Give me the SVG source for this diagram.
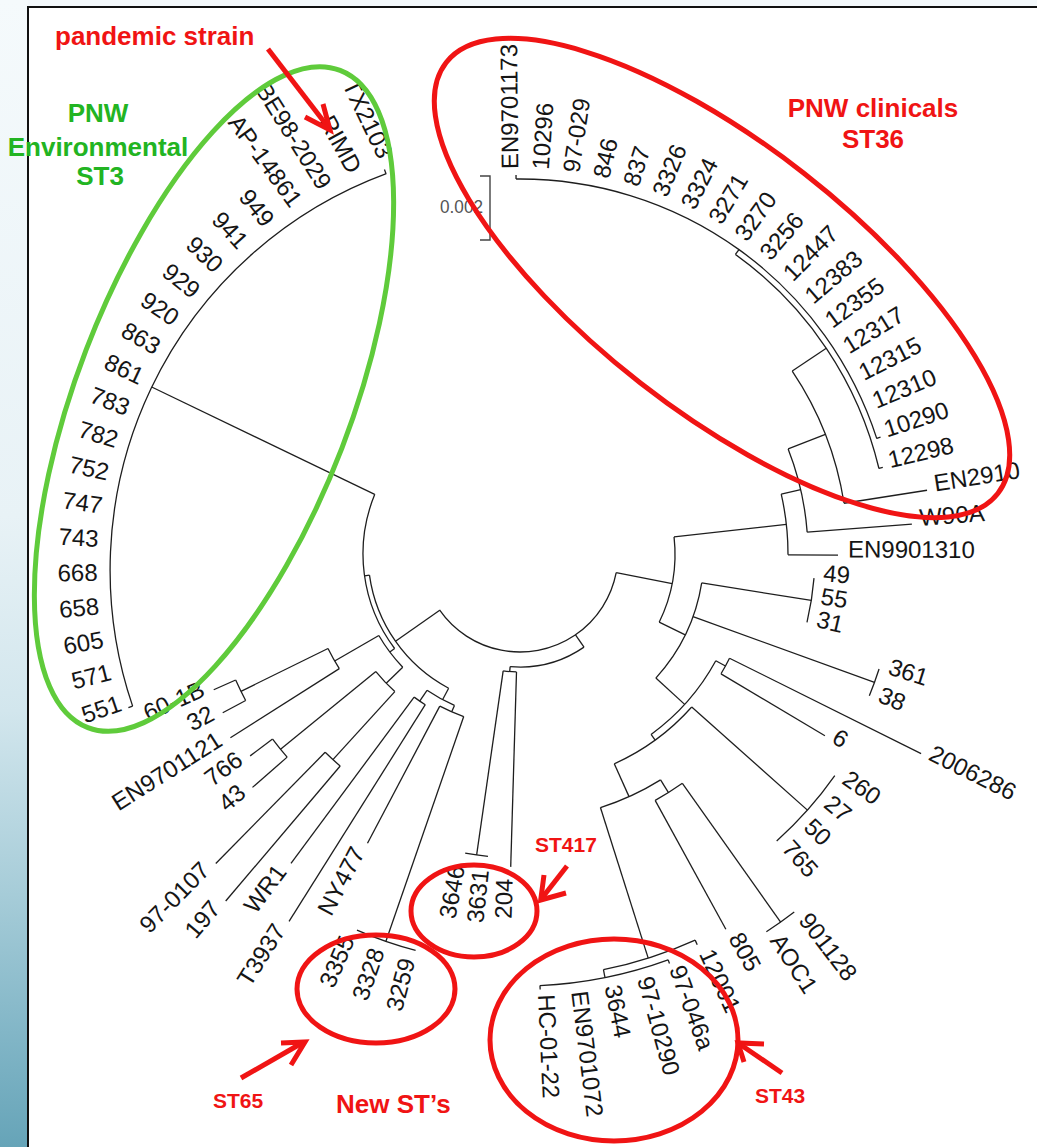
<svg xmlns="http://www.w3.org/2000/svg" width="1037" height="1147" viewBox="0 0 1037 1147">
<defs>
<linearGradient id="side" x1="0" y1="0" x2="0" y2="1">
<stop offset="0" stop-color="#f5fafc"/>
<stop offset="0.45" stop-color="#e8f2f6"/>
<stop offset="0.62" stop-color="#d2e6ed"/>
<stop offset="0.78" stop-color="#a6ccd8"/>
<stop offset="0.9" stop-color="#82b6c7"/>
<stop offset="1" stop-color="#66a4b8"/>
</linearGradient>
<style>
.t circle, .t line {fill:none; stroke:#1e1e1e; stroke-width:1.3}
.lab text {font-family:"Liberation Sans",Arial,sans-serif; font-size:24px; fill:#151515}
.lab .l {text-anchor:end}
.red {fill:none; stroke:#f01414; stroke-width:5}
.grn {fill:none; stroke:#5fcb3b; stroke-width:5}
.arr {fill:none; stroke:#f01414; stroke-width:5; stroke-linejoin:miter}
.rt {font-family:"Liberation Sans",Arial,sans-serif; font-weight:bold; fill:#f01414}
.gt {font-family:"Liberation Sans",Arial,sans-serif; font-weight:bold; fill:#22b422; font-size:26px; text-anchor:middle}
</style>
</defs>
<rect x="0" y="0" width="1037" height="1147" fill="#ffffff"/>
<rect x="0" y="0" width="28" height="1147" fill="url(#side)"/>
<rect x="28" y="0" width="1009" height="7" fill="#f3f8fb"/>
<path d="M28,1147 V7 H1037" fill="none" stroke="#111" stroke-width="2"/>

<g id="connectors" class="t" transform="translate(520 554)">
<circle r="98" stroke-dasharray="229.2 4000" transform="rotate(11)"/>
<line x1="98" x2="155" transform="rotate(11)"/>
<line x1="98" x2="113" transform="rotate(55.5)"/>
<circle r="113" stroke-dasharray="77.9 4000" transform="rotate(55.5)"/>
<line x1="113" x2="118" transform="rotate(95)"/>
<circle r="118" stroke-dasharray="13.39 4000" transform="rotate(91.7)"/>
<line x1="118" x2="304" transform="rotate(98.2)"/>
<circle r="304" stroke-dasharray="23.08 4000" transform="rotate(96.05)"/>
<line x1="118" x2="313" transform="rotate(91.7)"/>
<line x1="98" x2="152" transform="rotate(145)"/>
<circle r="152" stroke-dasharray="143.3 4000" transform="rotate(118)"/>
<line x1="152" x2="157" transform="rotate(172)"/>
<circle r="157" stroke-dasharray="162.5 4000" transform="rotate(143)"/>
<line x1="-145.3" y1="-59.6" x2="-368.3" y2="-167"/>
<line x1="157" x2="163" transform="rotate(143)"/>
<circle r="163" stroke-dasharray="39.83 4000" transform="rotate(136)"/>
<line x1="163" x2="214" transform="rotate(150)"/>
<circle r="214" stroke-dasharray="23.16 4000" transform="rotate(147.6)"/>
<line x1="214" x2="343" transform="rotate(147.6)"/>
<line x1="214" x2="311" transform="rotate(153.8)"/>
<circle r="311" stroke-dasharray="22.8 4000" transform="rotate(151.9)"/>
<line x1="311" x2="337" transform="rotate(151.9)"/>
<line x1="311" x2="335" transform="rotate(156.1)"/>
<line x1="163" x2="186" transform="rotate(136)"/>
<circle r="186" stroke-dasharray="27.59 4000" transform="rotate(132.3)"/>
<line x1="186" x2="309" transform="rotate(140.8)"/>
<circle r="309" stroke-dasharray="23.19 4000" transform="rotate(138.9)"/>
<line x1="309" x2="337" transform="rotate(143.2)"/>
<line x1="309" x2="355" transform="rotate(138.9)"/>
<line x1="186" x2="278" transform="rotate(132.3)"/>
<circle r="278" stroke-dasharray="20.38 4000" transform="rotate(130.3)"/>
<line x1="278" x2="434" transform="rotate(134.5)"/>
<line x1="278" x2="455" transform="rotate(130.3)"/>
<line x1="152" x2="165" transform="rotate(118)"/>
<circle r="165" stroke-dasharray="31.39 4000" transform="rotate(113.4)"/>
<line x1="165" x2="178" transform="rotate(124.3)"/>
<circle r="178" stroke-dasharray="13.51 4000" transform="rotate(122.15)"/>
<line x1="178" x2="385" transform="rotate(126.5)"/>
<line x1="178" x2="434" transform="rotate(122.15)"/>
<line x1="165" x2="172" transform="rotate(113.4)"/>
<circle r="172" stroke-dasharray="26.12 4000" transform="rotate(109.1)"/>
<line x1="172" x2="327" transform="rotate(117.8)"/>
<line x1="172" x2="410" transform="rotate(109.1)"/>
<circle r="410" stroke-dasharray="62.25 4000" transform="rotate(104.75)"/>
<circle r="155" stroke-dasharray="87.78 4000" transform="rotate(-6.35)"/>
<line x1="155" x2="268" transform="rotate(-6.35)"/>
<circle r="268" stroke-dasharray="61.27 4000" transform="rotate(-12.9)"/>
<line x1="268" x2="318" transform="rotate(0.2)"/>
<line x1="268" x2="288" transform="rotate(-12.9)"/>
<circle r="288" stroke-dasharray="85.7 4000" transform="rotate(-21.4)"/>
<line x1="288" x2="393" transform="rotate(-4.35)"/>
<line x1="288" x2="328" transform="rotate(-21.4)"/>
<circle r="328" stroke-dasharray="143.1 4000" transform="rotate(-33.9)"/>
<line x1="328" x2="412" transform="rotate(-8.9)"/>
<line x1="328" x2="369" transform="rotate(-33.9)"/>
<circle r="369" stroke-dasharray="263.2 4000" transform="rotate(-54.28)"/>
<line x1="369" x2="373" transform="rotate(-13.42)"/>
<line x1="369" x2="375" transform="rotate(-54.28)"/>
<circle r="375" stroke-dasharray="475.4 4000" transform="rotate(-90.6)"/>
<line x1="375" x2="379" transform="rotate(-90.6)"/>
<line x1="375" x2="379" transform="rotate(-17.96)"/>
<line x1="155" x2="184" transform="rotate(26.1)"/>
<circle r="184" stroke-dasharray="107.1 4000" transform="rotate(9.05)"/>
<line x1="184" x2="295" transform="rotate(9.05)"/>
<circle r="295" stroke-dasharray="44.79 4000" transform="rotate(4.7)"/>
<line x1="184" x2="377" transform="rotate(19.9)"/>
<circle r="377" stroke-dasharray="28.62 4000" transform="rotate(17.75)"/>
<line x1="184" x2="223" transform="rotate(42.4)"/>
<circle r="223" stroke-dasharray="98.86 4000" transform="rotate(28.6)"/>
<line x1="223" x2="234" transform="rotate(28.6)"/>
<circle r="234" stroke-dasharray="17.77 4000" transform="rotate(26.45)"/>
<line x1="234" x2="448" transform="rotate(26.45)"/>
<line x1="234" x2="355" transform="rotate(30.8)"/>
<line x1="223" x2="230" transform="rotate(54)"/>
<circle r="230" stroke-dasharray="96.74 4000" transform="rotate(41.7)"/>
<line x1="230" x2="385" transform="rotate(41.7)"/>
<circle r="385" stroke-dasharray="87.69 4000" transform="rotate(35.15)"/>
<line x1="230" x2="266" transform="rotate(65.8)"/>
<circle r="266" stroke-dasharray="66.39 4000" transform="rotate(58.1)"/>
<line x1="266" x2="281" transform="rotate(58.1)"/>
<circle r="281" stroke-dasharray="32.12 4000" transform="rotate(54.7)"/>
<line x1="281" x2="428" transform="rotate(61.25)"/>
<line x1="281" x2="451" transform="rotate(54.7)"/>
<circle r="451" stroke-dasharray="34.24 4000" transform="rotate(52.55)"/>
<line x1="266" x2="424" transform="rotate(72.4)"/>
<circle r="424" stroke-dasharray="96.57 4000" transform="rotate(65.6)"/>
<line x1="424" x2="429" transform="rotate(65.6)"/>
<line x1="424" x2="432" transform="rotate(78.65)"/>
<circle r="432" stroke-dasharray="131.2 4000" transform="rotate(69.95)"/>
<line x1="432" x2="436" transform="rotate(87.35)"/>
<line x1="432" x2="436" transform="rotate(69.95)"/>
<g transform="translate(12.6 16)">
<circle r="422.5" stroke-dasharray="652.6 4000" transform="rotate(161.2)"/>
<line x1="422.5" x2="427" transform="rotate(161.2)"/>
<line x1="422.5" x2="427" transform="rotate(249.7)"/>
</g>
</g>

<g class="lab" transform="translate(520 554)">
<g id="leaf-EN9701173"><text transform="rotate(-90.6) translate(385 0)" y="2.4">EN9701173</text></g>
<g id="leaf-10296"><text transform="rotate(-86.06) translate(385 0)" y="2.4">10296</text></g>
<g id="leaf-97-029"><text transform="rotate(-81.52) translate(385 0)" y="2.4">97-029</text></g>
<g id="leaf-846"><text transform="rotate(-76.98) translate(385 0)" y="2.4">846</text></g>
<g id="leaf-837"><text transform="rotate(-72.44) translate(385 0)" y="2.4">837</text></g>
<g id="leaf-3326"><text transform="rotate(-67.9) translate(385 0)" y="2.4">3326</text></g>
<g id="leaf-3324"><text transform="rotate(-63.36) translate(385 0)" y="2.4">3324</text></g>
<g id="leaf-3271"><text transform="rotate(-58.82) translate(385 0)" y="2.4">3271</text></g>
<g id="leaf-3270"><text transform="rotate(-54.28) translate(385 0)" y="2.4">3270</text></g>
<g id="leaf-3256"><text transform="rotate(-49.74) translate(385 0)" y="2.4">3256</text></g>
<g id="leaf-12447"><text transform="rotate(-45.2) translate(385 0)" y="2.4">12447</text></g>
<g id="leaf-12383"><text transform="rotate(-40.66) translate(385 0)" y="2.4">12383</text></g>
<g id="leaf-12355"><text transform="rotate(-36.12) translate(385 0)" y="2.4">12355</text></g>
<g id="leaf-12317"><text transform="rotate(-31.58) translate(385 0)" y="2.4">12317</text></g>
<g id="leaf-12315"><text transform="rotate(-27.04) translate(385 0)" y="2.4">12315</text></g>
<g id="leaf-12310"><text transform="rotate(-22.5) translate(385 0)" y="2.4">12310</text></g>
<g id="leaf-10290"><text transform="rotate(-17.96) translate(385 0)" y="2.4">10290</text></g>
<g id="leaf-12298"><text transform="rotate(-13.42) translate(380 0)" y="2.4">12298</text></g>
<g id="leaf-EN2910"><text transform="rotate(-8.9) translate(420 0)" y="2.4">EN2910</text></g>
<g id="leaf-W90A"><text transform="rotate(-4.35) translate(401 0)" y="2.4">W90A</text></g>
<g id="leaf-EN9901310"><text transform="rotate(0.2) translate(328 0)" y="2.4">EN9901310</text></g>
<g id="leaf-49"><text transform="rotate(4.7) translate(304 0)" y="2.4">49</text></g>
<g id="leaf-55"><text transform="rotate(9.05) translate(304 0)" y="2.4">55</text></g>
<g id="leaf-31"><text transform="rotate(13.4) translate(304 0)" y="2.4">31</text></g>
<g id="leaf-361"><text transform="rotate(17.75) translate(386 0)" y="2.4">361</text></g>
<g id="leaf-38"><text transform="rotate(22.1) translate(386 0)" y="2.4">38</text></g>
<g id="leaf-2006286"><text transform="rotate(26.45) translate(456 0)" y="2.4">2006286</text></g>
<g id="leaf-6"><text transform="rotate(30.8) translate(363 0)" y="2.4">6</text></g>
<g id="leaf-260"><text transform="rotate(35.15) translate(394 0)" y="2.4">260</text></g>
<g id="leaf-27"><text transform="rotate(39.5) translate(394 0)" y="2.4">27</text></g>
<g id="leaf-50"><text transform="rotate(43.85) translate(394 0)" y="2.4">50</text></g>
<g id="leaf-765"><text transform="rotate(48.2) translate(394 0)" y="2.4">765</text></g>
<g id="leaf-901128"><text transform="rotate(52.55) translate(460 0)" y="2.4">901128</text></g>
<g id="leaf-AOC1"><text transform="rotate(56.9) translate(460 0)" y="2.4">AOC1</text></g>
<g id="leaf-805"><text transform="rotate(61.25) translate(437 0)" y="2.4">805</text></g>
<g id="leaf-12001"><text transform="rotate(65.6) translate(438 0)" y="2.4">12001</text></g>
<g id="leaf-97-046a"><text transform="rotate(69.95) translate(441 0)" y="2.4">97-046a</text></g>
<g id="leaf-97-10290"><text transform="rotate(74.3) translate(441 0)" y="2.4">97-10290</text></g>
<g id="leaf-3644"><text transform="rotate(78.65) translate(441 0)" y="2.4">3644</text></g>
<g id="leaf-EN9701072"><text transform="rotate(83) translate(441 0)" y="2.4">EN9701072</text></g>
<g id="leaf-HC-01-22"><text transform="rotate(87.35) translate(441 0)" y="2.4">HC-01-22</text></g>
<g id="leaf-204"><text class="l" transform="rotate(91.7) translate(325 0) rotate(180)" y="2.4">204</text></g>
<g id="leaf-3631"><text class="l" transform="rotate(96.05) translate(318 0) rotate(180)" y="2.4">3631</text></g>
<g id="leaf-3646"><text class="l" transform="rotate(100.4) translate(318 0) rotate(180)" y="2.4">3646</text></g>
<g id="leaf-3259"><text class="l" transform="rotate(104.75) translate(420 0) rotate(180)" y="2.4">3259</text></g>
<g id="leaf-3328"><text class="l" transform="rotate(109.1) translate(420 0) rotate(180)" y="2.4">3328</text></g>
<g id="leaf-3355"><text class="l" transform="rotate(113.45) translate(420 0) rotate(180)" y="2.4">3355</text></g>
<g id="leaf-NY477"><text class="l" transform="rotate(117.8) translate(336 0) rotate(180)" y="2.4">NY477</text></g>
<g id="leaf-T3937"><text class="l" transform="rotate(122.15) translate(443 0) rotate(180)" y="2.4">T3937</text></g>
<g id="leaf-WR1"><text class="l" transform="rotate(126.5) translate(394 0) rotate(180)" y="2.4">WR1</text></g>
<g id="leaf-197"><text class="l" transform="rotate(130.3) translate(464 0) rotate(180)" y="2.4">197</text></g>
<g id="leaf-97-0107"><text class="l" transform="rotate(134.5) translate(443 0) rotate(180)" y="2.4">97-0107</text></g>
<g id="leaf-43"><text class="l" transform="rotate(138.9) translate(364 0) rotate(180)" y="2.4">43</text></g>
<g id="leaf-766"><text class="l" transform="rotate(143.2) translate(346 0) rotate(180)" y="2.4">766</text></g>
<g id="leaf-EN9701121"><text class="l" transform="rotate(147.6) translate(352 0) rotate(180)" y="2.4">EN9701121</text></g>
<g id="leaf-32"><text class="l" transform="rotate(151.9) translate(346 0) rotate(180)" y="2.4">32</text></g>
<g id="leaf-60-1B"><text class="l" transform="rotate(156.1) translate(344 0) rotate(180)" y="2.4">60-1B</text></g>
<g transform="translate(12.6 16)">
<g id="leaf-551"><text class="l" transform="rotate(161.2) translate(433 0) rotate(180)" y="1">551</text></g>
<g id="leaf-571"><text class="l" transform="rotate(165.63) translate(434 0) rotate(180)" y="2">571</text></g>
<g id="leaf-605"><text class="l" transform="rotate(170.05) translate(435 0) rotate(180)" y="2.4">605</text></g>
<g id="leaf-658"><text class="l" transform="rotate(174.48) translate(435 0) rotate(180)" y="2.4">658</text></g>
<g id="leaf-668"><text class="l" transform="rotate(178.9) translate(435 0) rotate(180)" y="2.4">668</text></g>
<g id="leaf-743"><text class="l" transform="rotate(183.33) translate(435 0) rotate(180)" y="2.4">743</text></g>
<g id="leaf-747"><text class="l" transform="rotate(187.75) translate(435 0) rotate(180)" y="2.4">747</text></g>
<g id="leaf-752"><text class="l" transform="rotate(192.18) translate(435 0) rotate(180)" y="2.4">752</text></g>
<g id="leaf-782"><text class="l" transform="rotate(196.6) translate(435 0) rotate(180)" y="2.4">782</text></g>
<g id="leaf-783"><text class="l" transform="rotate(201.03) translate(435 0) rotate(180)" y="2.4">783</text></g>
<g id="leaf-861"><text class="l" transform="rotate(205.45) translate(435 0) rotate(180)" y="2.4">861</text></g>
<g id="leaf-863"><text class="l" transform="rotate(209.88) translate(435 0) rotate(180)" y="2.4">863</text></g>
<g id="leaf-920"><text class="l" transform="rotate(214.3) translate(435 0) rotate(180)" y="2.4">920</text></g>
<g id="leaf-929"><text class="l" transform="rotate(218.73) translate(435 0) rotate(180)" y="2.4">929</text></g>
<g id="leaf-930"><text class="l" transform="rotate(223.15) translate(435 0) rotate(180)" y="2.4">930</text></g>
<g id="leaf-941"><text class="l" transform="rotate(227.58) translate(435 0) rotate(180)" y="2.4">941</text></g>
<g id="leaf-949"><text class="l" transform="rotate(232) translate(435 0) rotate(179)" y="2.4">949</text></g>
<g id="leaf-AP-14861"><text class="l" transform="rotate(236.43) translate(435 0) rotate(177.5)" y="2.4">AP-14861</text></g>
<g id="leaf-BE98-2029"><text class="l" transform="rotate(240.85) translate(435 0) rotate(177)" y="2.4">BE98-2029</text></g>
<g id="leaf-RIMD"><text class="l" transform="rotate(245.28) translate(436 0) rotate(176)" y="2.4">RIMD</text></g>
<g id="leaf-TX2103"><text class="l" transform="rotate(249.7) translate(438 0) rotate(174.5)" y="2.4">TX2103</text></g>
</g>
</g>

<g id="scalebar">
<path d="M480,176 H490 V240 H480" fill="none" stroke="#444" stroke-width="1.4"/>
<text x="440" y="213" font-family="Liberation Sans, Arial, sans-serif" font-size="18" fill="#555" textLength="43" lengthAdjust="spacingAndGlyphs">0.002</text>
</g>

<g id="ann-st3">
<ellipse class="grn" cx="214" cy="399" rx="352" ry="137" transform="rotate(-69 214 399)"/>
<text class="gt" x="98" y="122">PNW</text>
<text class="gt" x="98" y="156">Environmental</text>
<text class="gt" x="100" y="185">ST3</text>
</g>
<g id="ann-st36">
<ellipse class="red" cx="722" cy="278" rx="350" ry="133" transform="rotate(38 722 278)"/>
<text class="rt" x="873" y="117" font-size="26" text-anchor="middle">PNW clinicals</text>
<text class="rt" x="873" y="148" font-size="26" text-anchor="middle">ST36</text>
</g>
<g id="ann-pandemic">
<text class="rt" x="55" y="45" font-size="26">pandemic strain</text>
<path class="arr" d="M268,49 L328,127"/>
<path class="arr" d="M305,117 L330,130 L323,104"/>
</g>
<g id="ann-st417">
<ellipse class="red" cx="474" cy="911" rx="63" ry="46"/>
<text class="rt" x="535" y="852" font-size="21">ST417</text>
<path class="arr" d="M567,866 L542,898"/>
<path class="arr" d="M544,875 L540.7,900 L566,893"/>
</g>
<g id="ann-st65">
<ellipse class="red" cx="376" cy="989" rx="79" ry="54"/>
<text class="rt" x="213" y="1108" font-size="21">ST65</text>
<path class="arr" d="M241,1078 L302,1043"/>
<path class="arr" d="M281,1043 L305,1042 L291,1065"/>
<text class="rt" x="336" y="1113" font-size="26">New ST’s</text>
</g>
<g id="ann-st43">
<ellipse class="red" cx="614" cy="1040" rx="124" ry="101"/>
<text class="rt" x="755" y="1103" font-size="21">ST43</text>
<path class="arr" d="M782,1073 L741,1045"/>
<path class="arr" d="M764,1044 L738,1043 L744,1062"/>
</g>
</svg>
